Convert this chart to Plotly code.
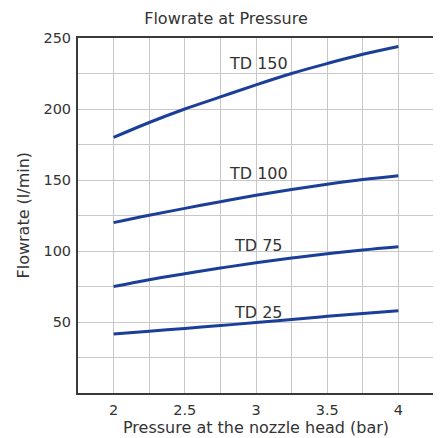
import plotly.graph_objects as go

pressure = [2, 2.25, 2.5, 2.75, 3, 3.25, 3.5, 3.75, 4]
td150 = [180, 190.5, 200, 208.5, 217, 225, 232, 238.5, 244]
td100 = [120, 125.2, 130, 134.7, 139.2, 143.3, 147, 150.3, 153]
td75 = [75, 79.8, 84, 88, 91.7, 95, 98, 100.7, 103]
td25 = [41.5, 43.5, 45.5, 47.5, 49.6, 51.8, 54, 56, 58]
series = [("TD 150", td150, 232), ("TD 100", td100, 154.5), ("TD 75", td75, 104), ("TD 25", td25, 57)]

x_ticks = [2, 2.5, 3, 3.5, 4]
x_tick_text = ["2", "2.5", "3", "3.5", "4"]
y_ticks = [50, 100, 150, 200, 250]
y_tick_text = ["50", "100", "150", "200", "250"]

LINE = "#1b3f98"
TXT = "#333333"
GRID = "#c8c8c8"
FONT = "DejaVu Sans"

fig = go.Figure()
for name, vals, ly in series:
    fig.add_trace(go.Scatter(x=pressure, y=vals, mode="lines", name=name,
                             line=dict(color=LINE, width=3, shape="spline"),
                             showlegend=False))
    fig.add_annotation(x=3.02, y=ly, text=name, showarrow=False,
                       xanchor="center", yanchor="middle",
                       font=dict(family=FONT, size=16, color=TXT))

# axis titles
fig.add_annotation(xref="paper", yref="paper", x=0.5, y=0, yshift=-34,
                   xanchor="center", yanchor="middle", showarrow=False,
                   text="Pressure at the nozzle head (bar)",
                   font=dict(family=FONT, size=16, color=TXT))
fig.add_annotation(xref="paper", yref="paper", x=0, y=0.5, xshift=-55,
                   xanchor="center", yanchor="middle", showarrow=False,
                   textangle=-90, text="Flowrate (l/min)",
                   font=dict(family=FONT, size=16, color=TXT))

fig.update_layout(
    width=441, height=438,
    margin=dict(l=70, r=15, t=30, b=53, autoexpand=False),
    paper_bgcolor="white", plot_bgcolor="white",
    title=dict(text="Flowrate at Pressure", x=218 / 441, xanchor="center",
               y=1 - 10 / 438, yanchor="middle", yref="container",
               automargin=False,
               font=dict(family=FONT, size=16, color=TXT)),
    font=dict(family=FONT, color=TXT),
)
fig.update_xaxes(
    range=[1.75, 4.25], tickvals=x_ticks, ticktext=x_tick_text,
    showgrid=True, gridcolor=GRID, gridwidth=1.3,
    minor=dict(dtick=0.25, tick0=1.75, showgrid=True, gridcolor=GRID, gridwidth=1.3),
    showline=True, linecolor="#3a3a3a", linewidth=2, mirror=True,
    zeroline=False, ticks="", ticklabelstandoff=3, automargin=False,
    tickfont=dict(family=FONT, size=14.5, color=TXT),
)
fig.update_yaxes(
    range=[0, 250], tickvals=y_ticks, ticktext=y_tick_text,
    showgrid=True, gridcolor=GRID, gridwidth=1.3,
    minor=dict(dtick=25, tick0=0, showgrid=True, gridcolor=GRID, gridwidth=1.3),
    showline=True, linecolor="#3a3a3a", linewidth=2, mirror=True,
    zeroline=False, ticks="", ticklabelstandoff=2, automargin=False,
    tickfont=dict(family=FONT, size=14.5, color=TXT),
)

fig.write_html("out.html")
